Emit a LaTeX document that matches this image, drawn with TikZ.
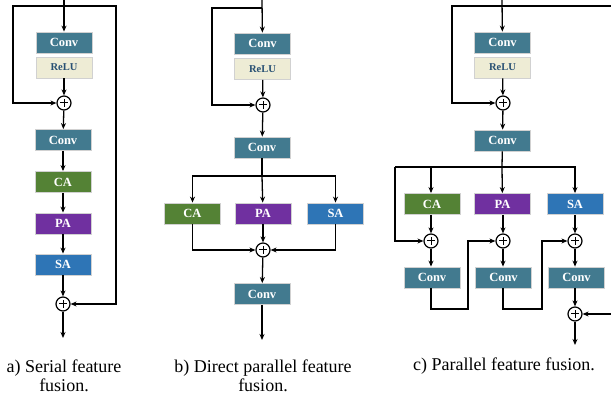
\documentclass[tikz,border=0pt]{standalone}
\usepackage{fontspec}
\setmainfont{Liberation Serif}
\usetikzlibrary{arrows.meta}
\definecolor{convc}{RGB}{66,122,143}
\definecolor{reluc}{RGB}{238,236,213}
\definecolor{relutext}{RGB}{40,80,115}
\definecolor{cac}{RGB}{84,130,53}
\definecolor{pac}{RGB}{112,48,160}
\definecolor{sac}{RGB}{46,117,182}
\tikzset{
  box/.style={draw=black!18, line width=0.8pt, minimum width=56pt, minimum height=21pt, inner sep=0pt, text=white, font=\bfseries\fontsize{12.5}{13}\selectfont},
  convbox/.style={box, fill=convc},
  relubox/.style={box, fill=reluc, text=relutext, font=\bfseries\fontsize{10.5}{12}\selectfont},
  cabox/.style={box, fill=cac},
  pabox/.style={box, fill=pac},
  sabox/.style={box, fill=sac},
  plusnode/.style={circle, draw, line width=1.2pt, minimum size=14pt, inner sep=0pt,
    path picture={\draw[line width=1pt] (path picture bounding box.center) ++(-4pt,0pt) -- ++(8pt,0pt);
                  \draw[line width=1pt] (path picture bounding box.center) ++(0pt,-4pt) -- ++(0pt,8pt);}},
  ln/.style={line width=1.3pt},
  arr/.style={ln, -{Stealth[length=6pt,width=5pt]}},
  captext/.style={align=center, font=\fontsize{18}{19.5}\selectfont}
}
\begin{document}
\begin{tikzpicture}[x=1pt,y=-1pt]
\useasboundingbox (0,0) rectangle (611,403);
% ---------- panel a ----------
\coordinate (ain) at (64,0);
\coordinate (asplit) at (64,6);
\node[convbox] (a1) at (64,42.5) {Conv};
\node[relubox] (ar) at (64,67.5) {ReLU};
\node[plusnode] (ap1) at (64,103) {};
\node[convbox] (a2) at (63,140) {Conv};
\node[cabox] (aca) at (63,182) {CA};
\node[pabox] (apa) at (63,223.5) {PA};
\node[sabox] (asa) at (63,264.5) {SA};
\node[plusnode] (ap2) at (63,304) {};
\coordinate (aout) at (63,338);
\draw[arr] (ain) -- (a1);
\draw[arr] (asplit) -- (13,6) |- (ap1.west);
\draw[arr] (asplit) -- (116,6) |- (ap2.east);
\draw[arr] (ar) -- (ap1);
\draw[arr] (ap1) -- (a2);
\draw[arr] (a2) -- (aca);
\draw[arr] (aca) -- (apa);
\draw[arr] (apa) -- (asa);
\draw[arr] (asa) -- (ap2);
\draw[arr] (ap2) -- (aout);
\node[captext] (acap) at (64,376) {a) Serial feature\\fusion.};
% ---------- panel b ----------
\coordinate (bin) at (262,0);
\coordinate (bsplit) at (262,8);
\node[convbox] (b1) at (262.5,43.5) {Conv};
\node[relubox] (br) at (262.5,69) {ReLU};
\node[plusnode] (bp1) at (263,105) {};
\node[convbox] (b2) at (262,147.5) {Conv};
\coordinate (bbr) at (262,176);
\node[cabox] (bca) at (192.5,213.5) {CA};
\node[pabox] (bpa) at (263,213.5) {PA};
\node[sabox] (bsa) at (335.5,213.5) {SA};
\node[plusnode] (bp2) at (263,250) {};
\node[convbox] (b3) at (262,294) {Conv};
\coordinate (bout) at (262,340);
\draw[arr] (bin) -- (b1);
\draw[arr] (bsplit) -- (212,8) |- (bp1.west);
\draw[arr] (br) -- (bp1);
\draw[arr] (bp1) -- (b2);
\draw[ln] (b2) -- (bbr);
\draw[arr] (bbr) -| (bca);
\draw[arr] (bbr) -| (bsa);
\draw[arr] (bbr) -- (bpa);
\draw[arr] (bca) |- (bp2.west);
\draw[arr] (bsa) |- (bp2.east);
\draw[arr] (bpa) -- (bp2);
\draw[arr] (bp2) -- (b3);
\draw[arr] (b3) -- (bout);
\node[captext] (bcap) at (263,376) {b) Direct parallel feature\\fusion.};
% ---------- panel c ----------
\coordinate (cin) at (502,0);
\coordinate (csplit) at (502,6);
\node[convbox] (c1) at (502.5,42.5) {Conv};
\node[relubox] (cr) at (502.5,67.5) {ReLU};
\node[plusnode] (cp1) at (503,103) {};
\node[convbox] (c2) at (502.5,140.5) {Conv};
\coordinate (cbr) at (502,167);
\node[cabox] (cca) at (432,204) {CA};
\node[pabox] (cpa) at (502.5,204) {PA};
\node[sabox] (csa) at (575,204) {SA};
\node[plusnode] (cq1) at (431,241) {};
\node[plusnode] (cq2) at (503,241) {};
\node[plusnode] (cq3) at (575,241) {};
\node[convbox] (cc1) at (432,277.5) {Conv};
\node[convbox] (cc2) at (503.5,277.5) {Conv};
\node[convbox] (cc3) at (576.5,277.5) {Conv};
\node[plusnode] (cq4) at (575,314) {};
\coordinate (cout) at (575,345);
\draw[arr] (cin) -- (c1);
\draw[arr] (csplit) -- (452,6) |- (cp1.west);
\draw[arr] (csplit) -- (614,6) |- (cq4.east);
\draw[arr] (cr) -- (cp1);
\draw[arr] (cp1) -- (c2);
\draw[ln] (c2) -- (cbr);
\draw[ln] (395,167) -- (576,167);
\draw[arr] (cbr) -- (cpa);
\draw[arr] (431,167) -- (cca.north -| 431,0);
\draw[arr] (575,167) -- (csa.north -| 575,0);
\draw[arr] (395,167) |- (cq1.west);
\draw[arr] (cca.south -| 431,0) -- (cq1);
\draw[arr] (cpa.south -| 503,0) -- (cq2);
\draw[arr] (csa) -- (cq3);
\draw[arr] (cq1) -- (cc1.north -| 431,0);
\draw[arr] (cq2) -- (cc2.north -| 503,0);
\draw[arr] (cq3) -- (cc3.north -| 575,0);
\draw[arr] (cc1.south -| 431,0) -- (431,309) -- (468,309) |- (cq2.west);
\draw[arr] (cc2.south -| 503,0) -- (503,309) -- (542,309) |- (cq3.west);
\draw[arr] (cc3.south -| 575,0) -- (cq4);
\draw[arr] (cq4) -- (cout);
\node[captext] (ccap) at (504,366.5) {c) Parallel feature fusion.};
\end{tikzpicture}
\end{document}
